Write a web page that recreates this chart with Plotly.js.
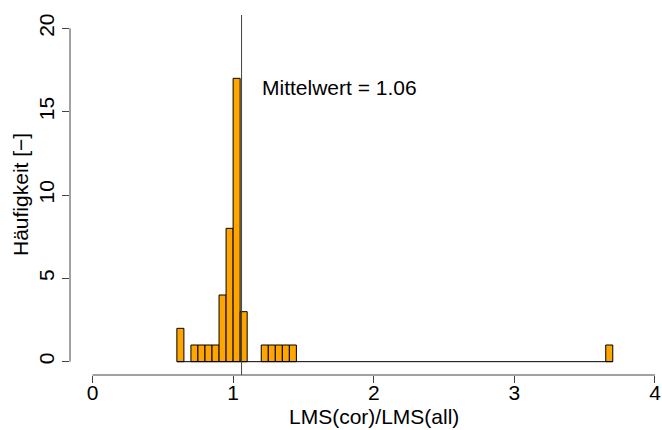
<!DOCTYPE html>
<html>
<head>
<meta charset="utf-8">
<script src="https://cdn.plot.ly/plotly-3.0.1.min.js"></script>
<style>html,body{margin:0;padding:0;background:#fff;}#chart{width:662px;height:430px;}</style>
</head>
<body>
<div id="chart"></div>
<script>
// Histogram bins (lower edge) and counts
const binLower = [0.60, 0.70, 0.75, 0.80, 0.85, 0.90, 0.95, 1.00, 1.05, 1.20, 1.25, 1.30, 1.35, 1.40, 3.65];
const counts   = [2,    1,    1,    1,    1,    4,    8,    17,   3,    1,    1,    1,    1,    1,    1];
const binWidth = 0.05;
const meanValue = 1.06;
const meanLabel = "Mittelwert = 1.06";
const xTicks = [0, 1, 2, 3, 4];
const yTicks = [0, 5, 10, 15, 20];
const xTitle = "LMS(cor)/LMS(all)";
const yTitle = "Häufigkeit [\u2212]";

const centers = binLower.map(v => v + binWidth / 2);
const firstEdge = Math.min(...binLower);
const lastEdge = Math.max(...binLower) + binWidth;

const FONT = "Liberation Sans, Arial, Helvetica, sans-serif";
const fs = 21;

const traces = [
  {
    type: "bar",
    x: centers,
    y: counts,
    width: binLower.map(() => binWidth),
    marker: {color: "#FFA500", line: {color: "#000", width: 1}},
    hoverinfo: "x+y"
  },
  {
    type: "scatter",
    mode: "lines",
    x: [firstEdge, lastEdge],
    y: [0, 0],
    line: {color: "#000", width: 1},
    hoverinfo: "skip"
  }
];

const layout = {
  width: 662,
  height: 430,
  margin: {l: 70, r: 0, t: 15, b: 55, pad: 0},
  paper_bgcolor: "#fff",
  plot_bgcolor: "#fff",
  showlegend: false,
  font: {family: FONT, size: fs, color: "#000"},
  bargap: 0,
  xaxis: {
    range: [-0.16, 4.05],
    tickvals: xTicks,
    ticktext: xTicks.map(String),
    ticks: "outside",
    ticklen: 7,
    tickcolor: "#444",
    tickwidth: 1,
    ticklabelstandoff: -8,
    showline: false,
    showgrid: false,
    zeroline: false,
    tickfont: {family: FONT, size: fs, color: "#000"}
  },
  yaxis: {
    range: [-0.8, 20.8],
    tickvals: yTicks,
    ticktext: yTicks.map(String),
    ticks: "outside",
    ticklen: 7,
    tickcolor: "#444",
    tickwidth: 1,
    tickangle: -90,
    showline: false,
    showgrid: false,
    zeroline: false,
    tickfont: {family: FONT, size: fs, color: "#000"}
  },
  shapes: [
    {type: "line", xref: "x", yref: "paper", x0: xTicks[0], x1: xTicks[xTicks.length - 1], y0: 0, y1: 0, line: {color: "#444", width: 1}},
    {type: "line", xref: "paper", yref: "y", x0: 0, x1: 0, y0: yTicks[0], y1: yTicks[yTicks.length - 1], line: {color: "#444", width: 1}},
    {type: "line", xref: "x", yref: "paper", x0: meanValue, x1: meanValue, y0: 0, y1: 1, line: {color: "#444", width: 1}}
  ],
  annotations: [
    {xref: "x", yref: "y", x: 1.19, y: 16.45, text: meanLabel, showarrow: false, xanchor: "left", yanchor: "middle",
     font: {family: FONT, size: fs, color: "#000"}},
    {xref: "x", yref: "paper", x: 2, y: 0, yshift: -41, text: xTitle, showarrow: false, xanchor: "center", yanchor: "middle",
     font: {family: FONT, size: fs, color: "#000"}},
    {xref: "paper", yref: "y", x: 0, y: 10, xshift: -50, text: yTitle, textangle: -90, showarrow: false, xanchor: "center", yanchor: "middle",
     font: {family: FONT, size: fs, color: "#000"}}
  ]
};

Plotly.newPlot("chart", traces, layout, {displayModeBar: false, staticPlot: true});
</script>
</body>
</html>
